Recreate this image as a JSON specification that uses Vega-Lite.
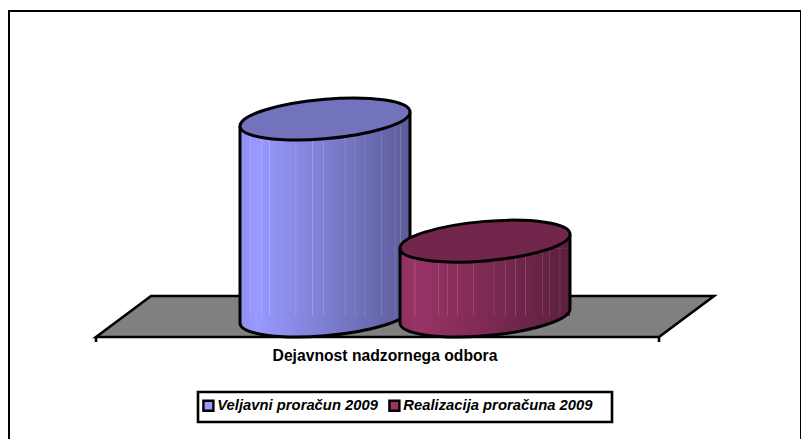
{"$schema":"https://vega.github.io/schema/vega-lite/v6.json","autosize":"none","padding":{"left":9,"top":11,"right":0,"bottom":0},"width":792,"height":440,"background":"white","config":{"view":{"stroke":"black","strokeWidth":2}},
"datasets":{"d":[{"category":"Dejavnost nadzornega odbora","series":"Veljavni proračun 2009","value":100},{"category":"Dejavnost nadzornega odbora","series":"Realizacija proračuna 2009","value":38}]},
"data":{"name":"d"},
"encoding":{"x":{"field":"series","type":"nominal","axis":null,"scale":{"type":"point","padding":0,"domain":["Veljavni proračun 2009","Realizacija proračuna 2009"],"range":[316,476]}},"y":{"field":"value","type":"quantitative","axis":null,"stack":null,"scale":{"domain":[-68.5,154.8],"nice":false,"zero":false}}},
"layer":[
{"transform":[{"filter":"datum.value==100"}],"mark":{"type":"point","shape":"M-309,21L-254,-20L309,-20L254,21ZM-309,21L-309,26M254,21L254,26M398,121L406,116","size":4,"filled":true,"fill":"#808080","stroke":"black","strokeWidth":2.6,"opacity":1,"xOffset":80},"encoding":{"y":{"datum":0}}},
{"transform":[{"filter":"datum.value==100"}],"mark":{"type":"point","shape":"M-207,76L207,76L207,106L-207,106Z","size":4,"filled":true,"fill":"white","stroke":"black","strokeWidth":2.6,"opacity":1,"xOffset":80},"encoding":{"y":{"datum":0}}},
{"transform":[{"filter":"datum.value==100"}],"mark":{"type":"text","font":"Liberation Sans","fontWeight":"bold","fontSize":15.7,"color":"black","xOffset":60,"yOffset":39.5},"encoding":{"y":{"datum":0},"text":{"field":"category"}}},
{"mark":{"type":"bar","width":170,"yOffset":7,"y2Offset":-7},"encoding":{"color":{"field":"series","type":"nominal","scale":{"domain":["Veljavni proračun 2009","Realizacija proračuna 2009"],"range":["#9999ff","#993366"]},"legend":{"title":null,"orient":"none","legendX":192,"legendY":387,"direction":"horizontal","columns":2,"symbolType":"square","symbolSize":100,"symbolStrokeColor":"black","symbolStrokeWidth":2.4,"symbolOpacity":1,"labelFont":"Liberation Sans","labelFontWeight":"bold","labelFontStyle":"italic","labelFontSize":14.8,"labelColor":"black","labelOffset":1.5,"labelLimit":300,"columnPadding":6,"padding":0}}}},

{"transform":[{"filter":"datum.value==100"}],"mark":{"type":"point","shape":"M-85,-7L85,-7A85.3,19.7,-4.97,1,1,-85,7Z","size":4,"filled":true,"opacity":1,"stroke":null,"fill":{"x1":0,"y1":0,"x2":1,"y2":0,"gradient":"linear","stops":[{"offset":0,"color":"#9090f0"},{"offset":0.1,"color":"#9999ff"},{"offset":1,"color":"#5c5c99"}]}},"encoding":{"y":{"datum":0}}},
{"transform":[{"filter":"datum.value==100"}],"mark":{"type":"point","shape":"M-85,7L85,-7L85,7Z","size":4,"filled":true,"opacity":1,"stroke":null,"fill":{"x1":0,"y1":0,"x2":1,"y2":0,"gradient":"linear","stops":[{"offset":0,"color":"#9090f0"},{"offset":0.1,"color":"#9999ff"},{"offset":1,"color":"#5c5c99"}]}}},
{"transform":[{"filter":"datum.value==100"}],"mark":{"type":"bar","width":170,"yOffset":7,"y2Offset":-7,"fill":{"x1":0,"y1":0,"x2":1,"y2":0,"gradient":"linear","stops":[{"offset":0,"color":"#9090f0"},{"offset":0.056,"color":"#9595f9"},{"offset":0.06,"color":"#afafff"},{"offset":0.064,"color":"#9595f9"},{"offset":0.1,"color":"#9999ff"},{"offset":0.124,"color":"#9797fc"},{"offset":0.128,"color":"#b0b0ff"},{"offset":0.132,"color":"#9797fc"},{"offset":0.169,"color":"#9494f7"},{"offset":0.173,"color":"#aeaefa"},{"offset":0.177,"color":"#9494f7"},{"offset":0.325,"color":"#8989e5"},{"offset":0.329,"color":"#a5a5ec"},{"offset":0.333,"color":"#8989e5"},{"offset":0.423,"color":"#8383da"},{"offset":0.427,"color":"#a0a0e2"},{"offset":0.431,"color":"#8383da"},{"offset":0.486,"color":"#7f7fd3"},{"offset":0.49,"color":"#9c9cdc"},{"offset":0.494,"color":"#7f7fd3"},{"offset":0.614,"color":"#7676c4"},{"offset":0.618,"color":"#9696d0"},{"offset":0.622,"color":"#7676c4"},{"offset":0.672,"color":"#7272be"},{"offset":0.676,"color":"#9292cb"},{"offset":0.68,"color":"#7272be"},{"offset":0.731,"color":"#6e6eb7"},{"offset":0.735,"color":"#8e8ec6"},{"offset":0.739,"color":"#6e6eb7"},{"offset":0.83,"color":"#6767ac"},{"offset":0.834,"color":"#8888bc"},{"offset":0.838,"color":"#6767ac"},{"offset":0.908,"color":"#6262a3"},{"offset":0.912,"color":"#8484b6"},{"offset":0.916,"color":"#6262a3"},{"offset":0.941,"color":"#60609f"},{"offset":0.945,"color":"#8282b3"},{"offset":0.949,"color":"#60609f"},{"offset":1,"color":"#5c5c99"}]}}},
{"transform":[{"filter":"datum.value==100"}],"mark":{"type":"point","shape":"M85,-7A85.3,19.7,-4.97,1,1,-85,7","size":4,"filled":false,"fill":null,"opacity":1,"stroke":"black","strokeWidth":3},"encoding":{"y":{"datum":0}}},
{"transform":[{"filter":"datum.value==100"}],"mark":{"type":"rule","stroke":"black","strokeWidth":3,"xOffset":-85,"yOffset":7,"y2Offset":7},"encoding":{"y2":{"datum":0}}},
{"transform":[{"filter":"datum.value==100"}],"mark":{"type":"rule","stroke":"black","strokeWidth":3,"xOffset":85,"yOffset":-7,"y2Offset":-7},"encoding":{"y2":{"datum":0}}},
{"transform":[{"filter":"datum.value==100"}],"mark":{"type":"point","shape":"M-85,7A85.3,19.7,-4.97,1,1,85,-7A85.3,19.7,-4.97,1,1,-85,7Z","size":4,"filled":true,"fill":"#7272bd","stroke":"black","strokeWidth":3,"opacity":1}},

{"transform":[{"filter":"datum.value==38"}],"mark":{"type":"point","shape":"M-85,-7L85,-7A85.3,19.7,-4.97,1,1,-85,7Z","size":4,"filled":true,"opacity":1,"stroke":null,"fill":{"x1":0,"y1":0,"x2":1,"y2":0,"gradient":"linear","stops":[{"offset":0,"color":"#8f3060"},{"offset":0.1,"color":"#993366"},{"offset":1,"color":"#5c1f3d"}]}},"encoding":{"y":{"datum":0}}},
{"transform":[{"filter":"datum.value==38"}],"mark":{"type":"point","shape":"M-85,7L85,-7L85,7Z","size":4,"filled":true,"opacity":1,"stroke":null,"fill":{"x1":0,"y1":0,"x2":1,"y2":0,"gradient":"linear","stops":[{"offset":0,"color":"#8f3060"},{"offset":0.1,"color":"#993366"},{"offset":1,"color":"#5c1f3d"}]}}},
{"transform":[{"filter":"datum.value==38"}],"mark":{"type":"bar","width":170,"yOffset":7,"y2Offset":-7,"fill":{"x1":0,"y1":0,"x2":1,"y2":0,"gradient":"linear","stops":[{"offset":0,"color":"#8f3060"},{"offset":0.084,"color":"#993366"},{"offset":0.088,"color":"#b9648c"},{"offset":0.092,"color":"#993366"},{"offset":0.221,"color":"#913060"},{"offset":0.225,"color":"#a75980"},{"offset":0.229,"color":"#913060"},{"offset":0.274,"color":"#8d2f5e"},{"offset":0.278,"color":"#a4597e"},{"offset":0.282,"color":"#8d2f5e"},{"offset":0.333,"color":"#892e5b"},{"offset":0.337,"color":"#a1587c"},{"offset":0.341,"color":"#892e5b"},{"offset":0.427,"color":"#832c57"},{"offset":0.431,"color":"#9c5679"},{"offset":0.435,"color":"#832c57"},{"offset":0.549,"color":"#7a2951"},{"offset":0.553,"color":"#955474"},{"offset":0.557,"color":"#7a2951"},{"offset":0.618,"color":"#76274e"},{"offset":0.622,"color":"#915271"},{"offset":0.626,"color":"#76274e"},{"offset":0.676,"color":"#72264c"},{"offset":0.68,"color":"#8e5170"},{"offset":0.684,"color":"#72264c"},{"offset":0.735,"color":"#6e2549"},{"offset":0.739,"color":"#8b516d"},{"offset":0.743,"color":"#6e2549"},{"offset":0.836,"color":"#672244"},{"offset":0.84,"color":"#854e69"},{"offset":0.844,"color":"#672244"},{"offset":0.874,"color":"#642143"},{"offset":0.878,"color":"#834d68"},{"offset":0.882,"color":"#642143"},{"offset":0.937,"color":"#602040"},{"offset":0.941,"color":"#804d66"},{"offset":0.945,"color":"#602040"},{"offset":1,"color":"#5c1f3d"}]}}},
{"transform":[{"filter":"datum.value==38"}],"mark":{"type":"point","shape":"M85,-7A85.3,19.7,-4.97,1,1,-85,7","size":4,"filled":false,"fill":null,"opacity":1,"stroke":"black","strokeWidth":3},"encoding":{"y":{"datum":0}}},
{"transform":[{"filter":"datum.value==38"}],"mark":{"type":"rule","stroke":"black","strokeWidth":3,"xOffset":-85,"yOffset":7,"y2Offset":7},"encoding":{"y2":{"datum":0}}},
{"transform":[{"filter":"datum.value==38"}],"mark":{"type":"rule","stroke":"black","strokeWidth":3,"xOffset":85,"yOffset":-7,"y2Offset":-7},"encoding":{"y2":{"datum":0}}},
{"transform":[{"filter":"datum.value==38"}],"mark":{"type":"point","shape":"M-85,7A85.3,19.7,-4.97,1,1,85,-7A85.3,19.7,-4.97,1,1,-85,7Z","size":4,"filled":true,"fill":"#72264c","stroke":"black","strokeWidth":3,"opacity":1}}
]}
